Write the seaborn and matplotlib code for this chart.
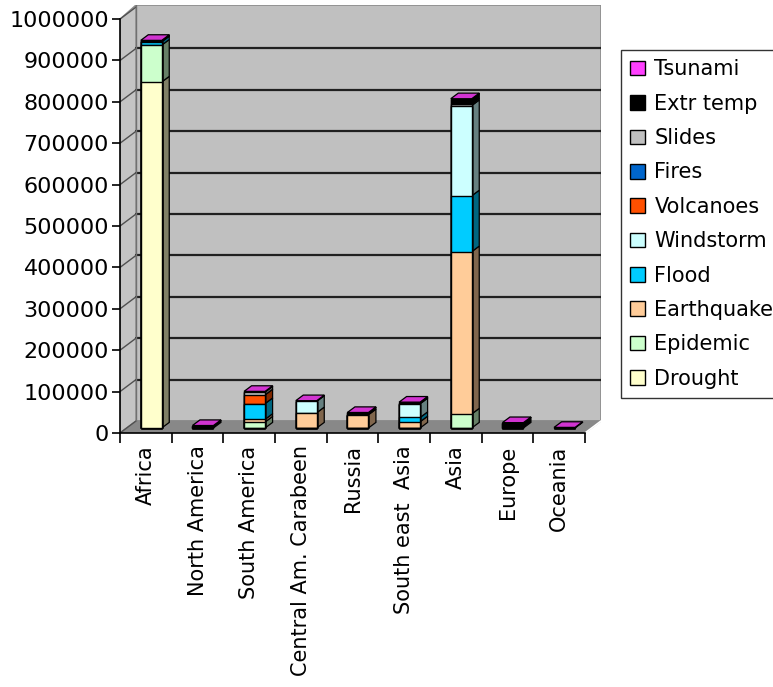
import numpy as np
import pandas as pd
import matplotlib
matplotlib.use("Agg")
import matplotlib.pyplot as plt
from matplotlib.patches import Polygon, Patch
from matplotlib.colors import to_rgb
import seaborn as sns

# ---------------- data ----------------
regions = ["Africa", "North America", "South America", "Central Am. Carabeen",
           "Russia", "South east  Asia", "Asia", "Europe", "Oceania"]

drought    = [836000, 0, 0, 0, 0, 0, 0, 0, 0]
epidemic   = [89000, 0, 14500, 0, 0, 0, 34000, 0, 0]
earthquake = [0, 0, 6500, 37000, 32000, 15000, 392000, 0, 0]
flood      = [8000, 0, 38000, 0, 0, 10500, 135000, 0, 0]
windstorm  = [2000, 0, 0, 27500, 0, 33000, 218000, 0, 0]
volcanoes  = [0, 0, 21000, 0, 0, 0, 0, 0, 0]
fires      = [0, 0, 0, 0, 0, 0, 0, 0, 0]
slides     = [0, 0, 7000, 0, 0, 0, 4000, 0, 0]
extr_temp  = [0, 5000, 0, 0, 4500, 2500, 11000, 12000, 0]
tsunami    = [1500, 1000, 1500, 1500, 1000, 1500, 1500, 1000, 1500]

series_names = ["Drought", "Epidemic", "Earthquake", "Flood", "Windstorm",
                "Volcanoes", "Fires", "Slides", "Extr temp", "Tsunami"]
series_vals = [drought, epidemic, earthquake, flood, windstorm,
               volcanoes, fires, slides, extr_temp, tsunami]
series_colors = ["#FFFFCC", "#CCFFCC", "#FFCC99", "#00CCFF", "#CCFFFF",
                 "#FF5000", "#0066CC", "#C0C0C0", "#000000", "#FF40FF"]

y_ticks = list(range(0, 1000001, 100000))

# ---------------- geometry (pixels -> data units) ----------------
W, H = 773, 687
PXX = 51.67             # px per category
PXY = 414 / 1e6         # px per unit value
BX = 0.105              # bar centre offset from category centre (front plane)
X0 = -0.5 - BX          # front plane left edge (bar-centre coords)
X1 = 8.5 - BX           # front plane right edge
DX = 16 / PXX           # depth offset of back wall
DY = 12 / PXY
BY = 5 / PXY            # bar front face baseline
BW = 21 / PXX           # bar width
DDX = 7.5 / PXX         # bar depth
DDY = 5.6 / PXY
YTOP = 1034000

sns.set_style("white")
plt.rcParams["font.family"] = ["DejaVu Sans"]
plt.rcParams["text.color"] = "black"

fig = plt.figure(figsize=(W / 100, H / 100), dpi=100)
ax = fig.add_axes([120 / W, (H - 433) / H, 481 / W, 428 / H])

# walls and floor
wall_c = "#C0C0C0"
ax.add_patch(Polygon([(X0 + DX, DY), (X1 + DX, DY), (X1 + DX, YTOP), (X0 + DX, YTOP)],
                     closed=True, facecolor=wall_c, edgecolor="#8c8c8c", lw=1.2, zorder=0))
ax.add_patch(Polygon([(X0, 0), (X0 + DX, DY), (X0 + DX, YTOP), (X0, 1e6)],
                     closed=True, facecolor="#C4C4C4", edgecolor="#8c8c8c", lw=1.0, zorder=0.5))
ax.add_patch(Polygon([(X0, 0), (X1, 0), (X1 + DX, DY), (X0 + DX, DY)],
                     closed=True, facecolor="#888888", edgecolor="#888888", lw=0.8, zorder=1))
ax.plot([X1, X1 + DX], [0, DY], color="white", lw=1.2, zorder=1.2)

for v in y_ticks[1:-1]:
    ax.plot([X0 + DX, X1 + DX], [v + DY, v + DY], color="#202020", lw=1.6, zorder=2)
for v in y_ticks:
    ax.plot([X0, X0 + DX], [v, v + DY], color="#505050", lw=1.0, zorder=2)
ax.plot([X0 + DX, X0 + DX], [DY, YTOP], color="#707070", lw=1.0, zorder=2)

# bars: front faces via seaborn (cumulative totals drawn from top to bottom)
vals = np.array(series_vals, dtype=float)
cums = np.cumsum(vals, axis=0)
df = pd.DataFrame({"region": regions})
for k in reversed(range(len(series_names))):
    if vals[k].sum() == 0:
        continue
    df["cum"] = cums[k]
    sns.barplot(data=df, x="region", y="cum", order=regions, color=series_colors[k],
                saturation=1, width=BW, bottom=BY, edgecolor="black", linewidth=1.0,
                errorbar=None, ax=ax, zorder=5)


def shade(c, f):
    r, g, b = to_rgb(c)
    return (r * f, g * f, b * f)


for i in range(len(regions)):
    xr = i + BW / 2
    xl = i - BW / 2
    lower = np.concatenate([[0], cums[:-1, i]])
    top_k = None
    for k in range(len(series_names)):
        if vals[k, i] <= 0:
            continue
        top_k = k
        b = BY + lower[k]
        t = BY + cums[k, i]
        ax.add_patch(Polygon([(xr, b), (xr + DDX, b + DDY), (xr + DDX, t + DDY), (xr, t)],
                             closed=True, facecolor=shade(series_colors[k], 0.5),
                             edgecolor="black", lw=0.9, zorder=4))
    if top_k is not None:
        T = BY + cums[-1, i]
        ax.add_patch(Polygon([(xl, T), (xr, T), (xr + DDX, T + DDY), (xl + DDX, T + DDY)],
                             closed=True, facecolor=shade(series_colors[top_k], 0.82),
                             edgecolor="black", lw=0.9, zorder=6))

# axes
ax.set_xlim(X0, X1 + DX)
ax.set_ylim(0, YTOP)
ax.set_xlabel("")
ax.set_ylabel("")
for s in ["top", "right"]:
    ax.spines[s].set_visible(False)
ax.spines["left"].set_bounds(0, 1e6)
ax.spines["bottom"].set_bounds(X0, X1)
for s in ["left", "bottom"]:
    ax.spines[s].set_color("black")
    ax.spines[s].set_linewidth(1.2)
    ax.spines[s].set_zorder(7)

ax.set_yticks(y_ticks)
ax.set_yticklabels([str(v) for v in y_ticks])
ax.tick_params(axis="y", length=6, width=1.2, color="black", pad=2, labelsize=16,
               labelcolor="black", left=True)
ax.set_xticks(np.arange(len(regions)) - BX)
ax.set_xticklabels(regions, rotation=90, fontsize=15)
ax.set_xticks(np.arange(len(regions) + 1) - 0.5 - BX, minor=True)
ax.tick_params(axis="x", which="major", length=0, pad=9, labelcolor="black")
ax.tick_params(axis="x", which="minor", length=7, width=1.2, color="black", bottom=True)

# legend
handles = [Patch(facecolor=series_colors[k], edgecolor="black", lw=1.0, label=series_names[k])
           for k in reversed(range(len(series_names)))]
leg = fig.legend(handles=handles, loc="upper left", bbox_to_anchor=(621 / W, 1 - 50 / H),
                 bbox_transform=fig.transFigure, frameon=True, fancybox=False,
                 fontsize=15, handlelength=0.7, handleheight=0.7, handletextpad=0.45,
                 labelspacing=0.69, borderpad=0.45, borderaxespad=0)
leg.get_frame().set_edgecolor("black")
leg.get_frame().set_linewidth(1.0)
for t in leg.get_texts():
    t.set_color("black")

fig.savefig("out.png", dpi=100)
